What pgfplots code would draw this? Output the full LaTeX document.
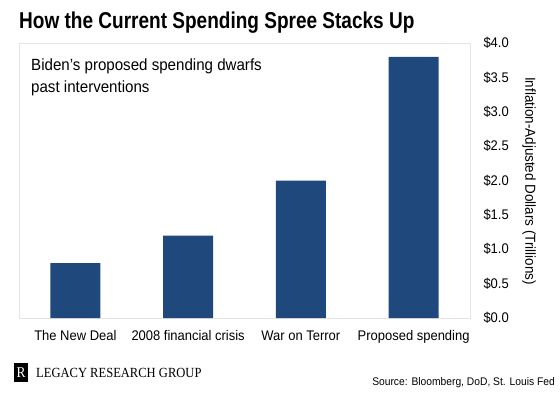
\documentclass[border=0pt]{standalone}
\usepackage{fontspec}
\setmainfont{Liberation Sans}[FakeStretch=0.93]
\newfontfamily\titlefont{Liberation Sans}[FakeStretch=0.83]
\newfontfamily\logofont{Liberation Serif}[FakeStretch=0.9]
\usepackage{pgfplots}
\pgfplotsset{compat=1.18}
\definecolor{barblue}{HTML}{1F497D}
\definecolor{boxgray}{HTML}{E4E4E4}
\begin{document}
\begin{tikzpicture}[x=1bp,y=1bp]
\path[use as bounding box] (0,0) rectangle (560,392);
\begin{axis}[at={(19bp,74bp)}, anchor=south west, scale only axis, width=451bp, height=275bp,
 xmin=-0.5, xmax=3.5, ymin=0, ymax=4,
 axis line style={draw=boxgray, line width=0.8bp},
 major tick length=0,
 xtick={0,1,2,3},
 xticklabels={The New Deal, 2008 financial crisis, War on Terror, Proposed spending},
 xticklabel style={font=\fontsize{14}{16}\selectfont, yshift=-9bp},
 ytick={0,0.5,...,4}, yticklabel pos=right,
 yticklabel={\$\pgfmathprintnumber[fixed,fixed zerofill,precision=1]{\tick}},
 yticklabel style={font=\fontsize{14}{16}\selectfont, xshift=10bp},
 /pgf/number format/assume math mode=true,
]
\addplot[ybar, bar width=50bp, fill=barblue, draw=none] coordinates {(0,0.8) (1,1.2) (2,2.0) (3,3.8)};
\end{axis}
\node[anchor=base west, inner sep=0, font=\titlefont\bfseries\fontsize{23}{26}\selectfont] at (19,392-28) {How the Current Spending Spree Stacks Up};
\node[anchor=base west, inner sep=0, font=\fontsize{16.3}{20}\selectfont] at (31,392-70) {Biden's proposed spending dwarfs};
\node[anchor=base west, inner sep=0, font=\fontsize{16.3}{20}\selectfont] at (31,392-92) {past interventions};
\node[rotate=-90, inner sep=0, font=\fontsize{14.5}{16}\selectfont] at (529,392-181) {Inflation-Adjusted Dollars (Trillions)};
\node[anchor=base east, inner sep=0, font=\fontsize{11.1}{13}\selectfont] at (555,392-385) {Source: Bloomberg, DoD, St. Louis Fed};
\fill[black] (14,392-382) rectangle (28,392-363);
\node[white, inner sep=0, font=\logofont\fontsize{15}{16}\selectfont] at (21,392-372.5) {R};
\node[anchor=base west, inner sep=0, font=\logofont\fontsize{14}{16}\selectfont] at (36,392-377) {LEGACY RESEARCH GROUP};
\end{tikzpicture}
\end{document}
